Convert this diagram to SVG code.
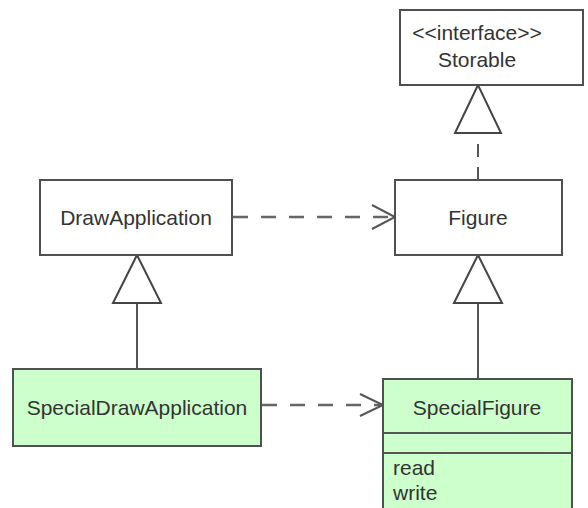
<svg xmlns="http://www.w3.org/2000/svg" width="588" height="508" viewBox="0 0 588 508">
  <style>
    .box { fill: #ffffff; stroke: #505050; stroke-width: 2; }
    .special { fill: #ccffcc; }
    .label { font-family: "Liberation Sans", Arial, sans-serif; font-size: 21px; fill: #333333; text-anchor: middle; }
    .op { font-family: "Liberation Sans", Arial, sans-serif; font-size: 21px; fill: #333333; }
    .solid { fill: none; stroke: #555555; stroke-width: 2; }
    .dash { fill: none; stroke: #666666; stroke-width: 2.5; stroke-dasharray: 15 13; }
    .dash-short { fill: none; stroke: #555555; stroke-width: 2; stroke-dasharray: 13 10; }
    .head { fill: none; stroke: #555555; stroke-width: 2; stroke-linejoin: miter; }
    .tri { fill: #ffffff; stroke: #444444; stroke-width: 2; stroke-linejoin: miter; }
  </style>
  <rect width="588" height="508" fill="#ffffff"/>

  <g id="connectors">
    <!-- DrawApplication uses Figure -->
    <line class="dash" x1="233" y1="217" x2="393" y2="217"/>
    <polyline class="head" points="372,205 395,217 372,229"/>
    <!-- SpecialDrawApplication uses SpecialFigure -->
    <line class="dash" x1="262" y1="405" x2="381" y2="405"/>
    <polyline class="head" points="360,394 383,405 360,416"/>
    <!-- Figure realizes Storable -->
    <line class="dash-short" x1="478" y1="180" x2="478" y2="134"/>
    <polygon class="tri" points="478,85 455,133 501,133"/>
    <!-- SpecialDrawApplication extends DrawApplication -->
    <line class="solid" x1="137" y1="369" x2="137" y2="303"/>
    <polygon class="tri" points="137,255 113,303 161,303"/>
    <!-- SpecialFigure extends Figure -->
    <line class="solid" x1="478" y1="379" x2="478" y2="303"/>
    <polygon class="tri" points="478,255 454,303 502,303"/>
  </g>

  <g id="storable">
    <rect class="box" x="400" y="10" width="183" height="75"/>
    <text class="label" x="477" y="40">&lt;&lt;interface&gt;&gt;</text>
    <text class="label" x="477" y="67">Storable</text>
  </g>

  <g id="figure">
    <rect class="box" x="395" y="180" width="167" height="75"/>
    <text class="label" x="478" y="225">Figure</text>
  </g>

  <g id="draw-application">
    <rect class="box" x="40" y="180" width="192" height="75"/>
    <text class="label" x="136" y="225">DrawApplication</text>
  </g>

  <g id="special-draw-application">
    <rect class="box special" x="13" y="369" width="248" height="77"/>
    <text class="label" x="137" y="415">SpecialDrawApplication</text>
  </g>

  <g id="special-figure">
    <rect class="box special" x="383" y="379" width="189" height="140"/>
    <line class="solid" x1="383" y1="433" x2="572" y2="433"/>
    <line class="solid" x1="383" y1="453" x2="572" y2="453"/>
    <text class="label" x="477" y="415">SpecialFigure</text>
    <text class="op" x="393" y="475">read</text>
    <text class="op" x="393" y="500">write</text>
  </g>
</svg>
